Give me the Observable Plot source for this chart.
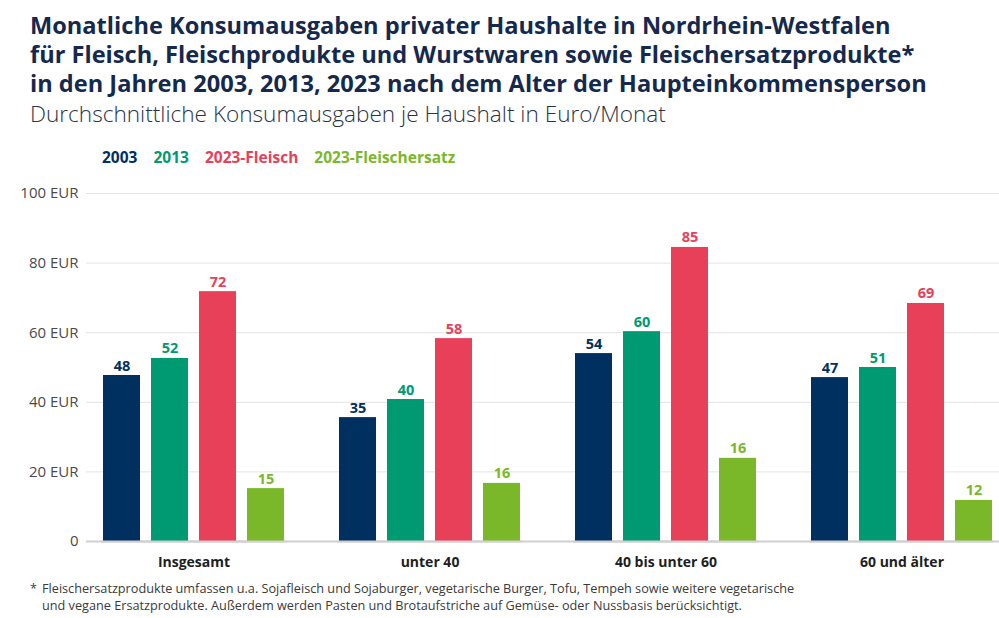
<!DOCTYPE html>
<html>
<head>
<meta charset="utf-8">
<script src="https://cdn.jsdelivr.net/npm/d3@7"></script>
<script src="https://cdn.jsdelivr.net/npm/@observablehq/plot@0.6"></script>
<style>
  html, body { margin: 0; padding: 0; background: #fff; }
  body { width: 999px; height: 618px; position: relative; overflow: hidden; font-family: "Open Sans", sans-serif; }
  #title { position: absolute; left: 30px; top: 11px; font-size: 23.6px; line-height: 29px; font-weight: 700; color: #14294d; white-space: nowrap; }
  #subtitle { position: absolute; left: 30px; top: 101px; font-size: 22.6px; line-height: 26px; font-weight: 300; color: #2b3445; white-space: nowrap; }
  #legend { position: absolute; left: 102px; top: 148px; font-size: 15.5px; line-height: 18px; font-weight: 700; white-space: nowrap; }
  #legend span { margin-right: 16px; }
  #grid, #chart { position: absolute; left: 0; top: 175px; }
  #grid g.ytick, #grid g.ytick text { font-size: 15px !important; font-family: "Open Sans", sans-serif !important; }
  #note { position: absolute; left: 30px; top: 580px; font-size: 12.7px; line-height: 17.4px; color: #3a3a3a; display: flex; white-space: nowrap; }
  #note .star { width: 12px; }
</style>
</head>
<body>
<div id="title">Monatliche Konsumausgaben privater Haushalte in Nordrhein-Westfalen<br>für Fleisch, Fleischprodukte und Wurstwaren sowie Fleischersatzprodukte*<br>in den Jahren 2003, 2013, 2023 nach dem Alter der Haupteinkommensperson</div>
<div id="subtitle">Durchschnittliche Konsumausgaben je Haushalt in Euro/Monat</div>
<div id="legend"></div>
<div id="grid"></div>
<div id="chart"></div>
<div id="note"><span class="star">*</span><span>Fleischersatzprodukte umfassen u.a. Sojafleisch und Sojaburger, vegetarische Burger, Tofu, Tempeh sowie weitere vegetarische<br>und vegane Ersatzprodukte. Außerdem werden Pasten und Brotaufstriche auf Gemüse- oder Nussbasis berücksichtigt.</span></div>
<script>
// Categories (age of main earner)
const categories = ["Insgesamt", "unter 40", "40 bis unter 60", "60 und älter"];
// Series names
const series = ["2003", "2013", "2023-Fleisch", "2023-Fleischersatz"];
const seriesColors = ["#00305f", "#009a72", "#e84058", "#7ab829"];

// Bar heights as drawn (EUR / month)
const v2003 = [47.7, 35.6, 54, 47.1];
const v2013 = [52.6, 40.8, 60.3, 50];
const v2023Fleisch = [71.8, 58.3, 84.5, 68.4];
const v2023Ersatz = [15.2, 16.7, 23.9, 11.8];

// Value labels as printed
const l2003 = ["48", "35", "54", "47"];
const l2013 = ["52", "40", "60", "51"];
const l2023Fleisch = ["72", "58", "85", "69"];
const l2023Ersatz = ["15", "16", "16", "12"];

// y-axis ticks
const yTicks = [0, 20, 40, 60, 80, 100];
const yTickLabels = ["0", "20 EUR", "40 EUR", "60 EUR", "80 EUR", "100 EUR"];

const valueSets = [v2003, v2013, v2023Fleisch, v2023Ersatz];
const labelSets = [l2003, l2013, l2023Fleisch, l2023Ersatz];
const data = [];
categories.forEach((c, i) => {
  series.forEach((s, j) => {
    data.push({category: c, series: s, value: valueSets[j][i], label: labelSets[j][i]});
  });
});
const tickData = yTicks.map((t, i) => ({value: t, label: yTickLabels[i]}));

// Legend
const legend = document.getElementById("legend");
series.forEach((s, j) => {
  const sp = document.createElement("span");
  sp.textContent = s;
  sp.style.color = seriesColors[j];
  legend.appendChild(sp);
});

const common = {
  width: 999,
  height: 400,
  marginLeft: 86,
  marginRight: 0,
  marginTop: 18,
  marginBottom: 34,
  style: { fontFamily: "Open Sans, sans-serif", fontSize: "14px", background: "transparent" }
};

// Background layer: continuous grid, y tick labels, baseline
const grid = Plot.plot({
  ...common,
  y: { domain: [0, 100], label: null, axis: null },
  marks: [
    Plot.gridY(yTicks.filter(d => d > 0), { stroke: "#e3e3e3", strokeOpacity: 1, strokeWidth: 1 }),
    Plot.text(tickData, {
      y: "value", text: "label", frameAnchor: "left", textAnchor: "end",
      dx: -8, fontSize: 15, fill: "#4a4a4a", className: "ytick"
    }),
    Plot.ruleY([0], { stroke: "#d0d0d0", strokeWidth: 2 })
  ]
});
document.getElementById("grid").appendChild(grid);

// Foreground layer: grouped bars via fx facets
const chart = Plot.plot({
  ...common,
  fx: { domain: categories, paddingInner: 0.215, paddingOuter: 0.04, align: 0.78, label: null },
  x: { domain: series, paddingInner: 0.224, paddingOuter: 0, axis: null },
  y: { domain: [0, 100], label: null, axis: null },
  color: { domain: series, range: seriesColors },
  marks: [
    Plot.axisFx({ anchor: "bottom", tickSize: 0, tickPadding: 16, fontSize: 14, fontWeight: "bold", fill: "#1e1e1e", label: null }),
    Plot.barY(data, { fx: "category", x: "series", y: "value", fill: "series" }),
    Plot.ruleY([0], { stroke: "#d0d0d0", strokeWidth: 2 }),
    Plot.text(data, {
      fx: "category", x: "series", y: "value", text: "label", fill: "series",
      lineAnchor: "bottom", dy: -5, fontSize: 14.5, fontWeight: "bold"
    })
  ]
});
document.getElementById("chart").appendChild(chart);
</script>
</body>
</html>
